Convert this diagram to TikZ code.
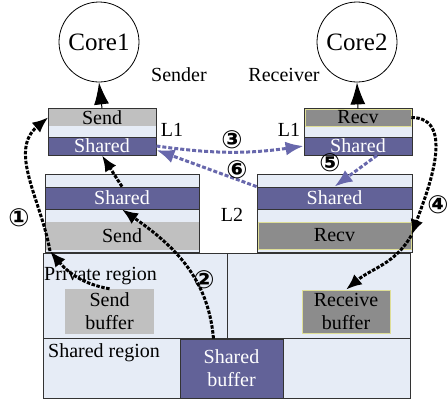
\documentclass[tikz,border=0pt]{standalone}
\usepackage{fontspec}
\setmainfont{Liberation Serif}
\newfontfamily\numfont{DejaVu Sans}
\usetikzlibrary{arrows.meta}
\definecolor{bandblue}{RGB}{98,98,152}
\definecolor{lightfill}{RGB}{230,236,246}
\definecolor{sendgray}{RGB}{192,192,192}
\definecolor{recvgray}{RGB}{140,140,140}
\definecolor{recvedge}{RGB}{222,222,150}
\definecolor{flowblue}{RGB}{104,104,172}
\begin{document}
\begin{tikzpicture}[x=1pt,y=-1pt,
  every node/.style={font=\fontsize{20}{23}\selectfont, inner sep=0pt},
  core/.style={circle, draw, line width=0.8pt, minimum size=80pt, font=\fontsize{25}{25}\selectfont},
  cache/.style={draw=black!80, fill=lightfill, line width=0.8pt},
  sendband/.style={fill=sendgray},
  recvband/.style={fill=recvgray, draw=recvedge, line width=0.6pt},
  sharedband/.style={fill=bandblue, draw=black!80, line width=0.8pt, text=white},
  mem/.style={draw=black!80, fill=lightfill, line width=0.8pt},
  stepnum/.style={font=\numfont\bfseries\fontsize{25}{25}\selectfont},
  coreflow/.style={-{Latex[length=22pt,width=15pt]}, line width=1pt},
  dataflow/.style={-{Latex[length=16pt,width=13pt]}, line width=3pt, dash pattern=on 3.5pt off 1.5pt},
  syncflow/.style={draw=flowblue, -{Latex[length=18pt,width=14pt]}, line width=3pt, dash pattern=on 4pt off 2pt}]
\useasboundingbox (0,0) rectangle (448,402);
\node[mem, minimum width=184pt, minimum height=85pt] (privL) at (135,295.5) {};
\node[mem, minimum width=183pt, minimum height=85pt] (privR) at (318.5,295.5) {};
\node[mem, minimum width=367pt, minimum height=60pt] (sharedReg) at (226.5,368) {};
\node[sharedband, minimum width=103pt, minimum height=59pt, align=center] (shbuf) at (231.5,368.5) {Shared\\buffer};
\node[sendband, minimum width=89pt, minimum height=45pt, align=center] (sbuf) at (109.5,311.5) {Send\\buffer};
\node[recvband, minimum width=88pt, minimum height=43pt, align=center] (rbuf) at (346,311.5) {Receive\\buffer};
\node[anchor=west] (privtext) at (44,276) {Private region};
\node[anchor=west] (sharedtext) at (48,353) {Shared region};
\node[cache, minimum width=154pt, minimum height=78pt] (s2) at (122,213) {};
\node[sharedband, minimum width=154pt, minimum height=22pt] (s2shared) at (122,198) {Shared};
\node[sendband, minimum width=153pt, minimum height=28pt] (s2send) at (122,236) {Send};
\node[cache, minimum width=155pt, minimum height=78pt] (r2) at (334.5,213) {};
\node[sharedband, minimum width=155pt, minimum height=22pt] (r2shared) at (334.5,198) {Shared};
\node[recvband, minimum width=153pt, minimum height=27pt] (r2recv) at (334.5,235.5) {Recv};
\node (l2) at (232,215) {L2};
\node[cache, minimum width=108pt, minimum height=47pt] (s1) at (102,131.5) {};
\node[sendband, minimum width=107pt, minimum height=17.5pt] (s1send) at (102,117.25) {Send};
\node[sharedband, minimum width=108pt, minimum height=18pt] (s1shared) at (102,146) {Shared};
\node[cache, minimum width=108pt, minimum height=47pt] (r1) at (358,131.5) {};
\node[recvband, minimum width=106pt, minimum height=17pt] (r1recv) at (358,117.5) {Recv};
\node[sharedband, minimum width=108pt, minimum height=18pt] (r1shared) at (358,146) {Shared};
\node (l1s) at (172,130) {L1};
\node (l1r) at (289,130) {L1};
\node[core] (core1) at (99,42) {Core1};
\node[core] (core2) at (357,42) {Core2};
\node (sender) at (179,75) {Sender};
\node (receiver) at (284,75) {Receiver};
\coordinate (c1) at (50,251);
\draw[coreflow] (s1send.north) -- (core1.south);
\draw[coreflow] (r1recv.north) -- (core2.south);
\draw[dataflow] (sbuf.north) to[out=170,in=-50] (c1);
\draw[dataflow] (c1) to[out=100,in=-140] (s1send.west);
\draw[dataflow] ([xshift=-18pt]shbuf.north) to[out=95,in=-35] (s2shared.south);
\draw[dataflow] (s2shared.north) -- (s1shared.south);
\draw[syncflow] (s1shared.east) to[out=-8,in=188] (r1shared.west);
\draw[syncflow] ([xshift=19pt]r1shared.south) -- (r2shared.north);
\draw[syncflow] (r2shared.north west) -- ([yshift=-4pt]s1shared.east);
\draw[dataflow] (r1recv.east) to[out=0,in=70] (r2recv.east);
\draw[dataflow] (r2recv.east) to[out=-120,in=40] (rbuf.north);
\node[stepnum] (n1) at (19,218) {①};
\node[stepnum] (n2) at (204,280) {②};
\node[stepnum] (n3) at (232,140) {③};
\node[stepnum] (n4) at (438,205) {④};
\node[stepnum] (n5) at (330,163) {⑤};
\node[stepnum] (n6) at (237,170) {⑥};
\end{tikzpicture}
\end{document}
